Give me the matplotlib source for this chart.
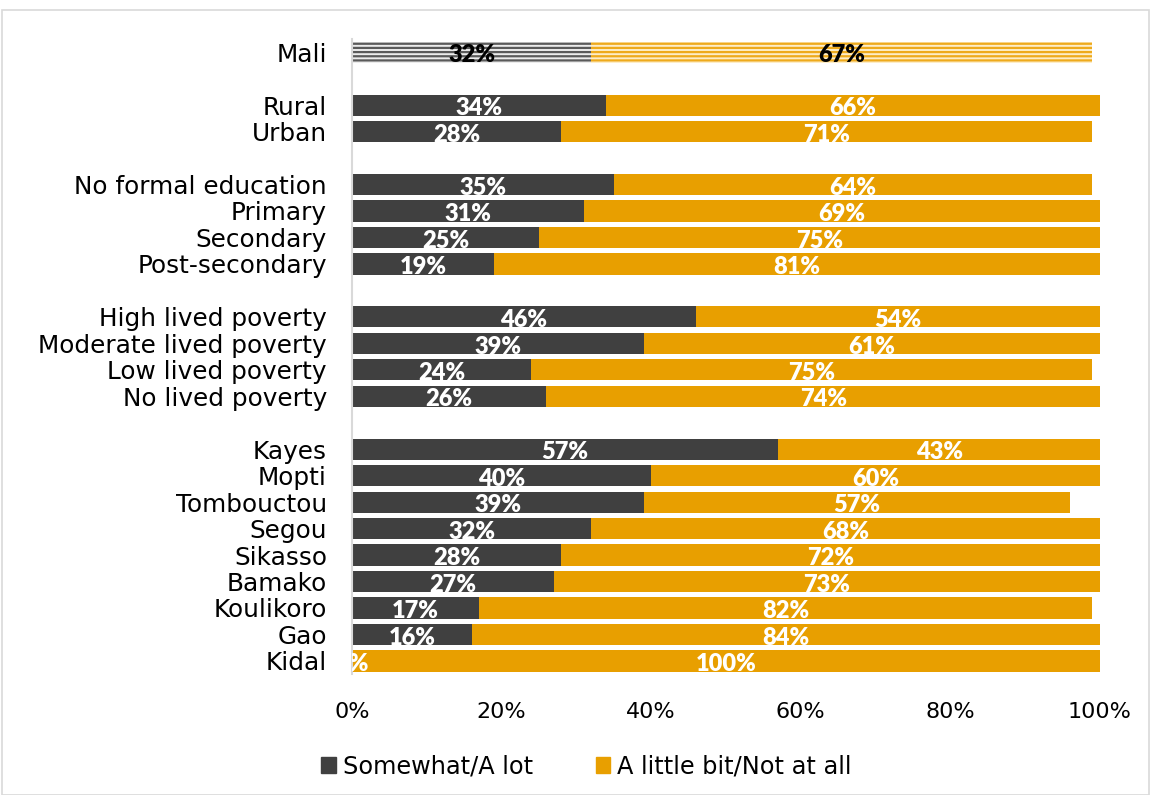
import numpy as np
import matplotlib
matplotlib.use("Agg")
import matplotlib.pyplot as plt
from matplotlib.patches import Rectangle, Patch

plt.rcParams['font.family'] = ['DejaVu Sans']
plt.rcParams['hatch.linewidth'] = 1.6

categories = ['Mali', '', 'Rural', 'Urban', '',
              'No formal education', 'Primary', 'Secondary', 'Post-secondary', '',
              'High lived poverty', 'Moderate lived poverty', 'Low lived poverty', 'No lived poverty', '',
              'Kayes', 'Mopti', 'Tombouctou', 'Segou', 'Sikasso', 'Bamako', 'Koulikoro', 'Gao', 'Kidal']
somewhat = [32, None, 34, 28, None,
            35, 31, 25, 19, None,
            46, 39, 24, 26, None,
            57, 40, 39, 32, 28, 27, 17, 16, 0]
little = [67, None, 66, 71, None,
          64, 69, 75, 81, None,
          54, 61, 75, 74, None,
          43, 60, 57, 68, 72, 73, 82, 84, 100]
series_names = ['Somewhat/A lot', 'A little bit/Not at all']

dark = '#404040'
orange = '#e89f00'


def main():
    fig = plt.figure(figsize=(11.5, 7.95), dpi=100)
    ax = fig.add_axes([0.306, 0.152, 0.6505, 0.799])

    for i, (cat, a, b) in enumerate(zip(categories, somewhat, little)):
        if a is None:
            continue
        if cat == 'Mali':
            ax.barh(i, a, height=0.78, color='#ececec', edgecolor='#5a5a5a',
                    hatch='----', linewidth=0)
            ax.barh(i, b, left=a, height=0.78, color='#fdedc8', edgecolor='#eeaa1c',
                    hatch='----', linewidth=0)
            tc = 'black'
        else:
            ax.barh(i, a, height=0.8, color=dark)
            ax.barh(i, b, left=a, height=0.8, color=orange)
            tc = 'white'
        for x, v in [(a / 2, a), (a + b / 2, b)]:
            ax.text(x, i + 0.12, '%d%%' % v, ha='center', va='center', color=tc,
                    fontsize=17, fontweight='heavy', family=['Lato', 'DejaVu Sans'],
                    clip_on=True)

    ax.set_ylim(len(categories) - 0.5, -0.5)
    ax.set_xlim(0, 100)
    ax.set_yticks(range(len(categories)))
    ax.set_yticklabels(categories, fontsize=17.8)
    ax.set_xticks(np.arange(0, 101, 20))
    ax.set_xticklabels(['%d%%' % v for v in range(0, 101, 20)], fontsize=16)
    ax.tick_params(axis='both', length=0)
    ax.tick_params(axis='x', pad=20)
    ax.tick_params(axis='y', pad=18)
    for s in ['top', 'right', 'bottom']:
        ax.spines[s].set_visible(False)
    ax.spines['left'].set_color('#d9d9d9')
    ax.spines['left'].set_linewidth(1.5)

    handles = [Patch(color=dark), Patch(color=orange)]
    fig.legend(handles, series_names, loc='center', bbox_to_anchor=(0.51, 0.036),
               ncol=2, frameon=False, fontsize=17.3, handlelength=0.6, handleheight=0.6,
               handletextpad=0.3, columnspacing=2.6)

    fig.patches.append(Rectangle((0.002, 0.0), 0.997, 0.987, transform=fig.transFigure,
                                 fill=False, edgecolor='#d9d9d9', linewidth=1.2))

    fig.savefig('out.png', dpi=100)


main()
